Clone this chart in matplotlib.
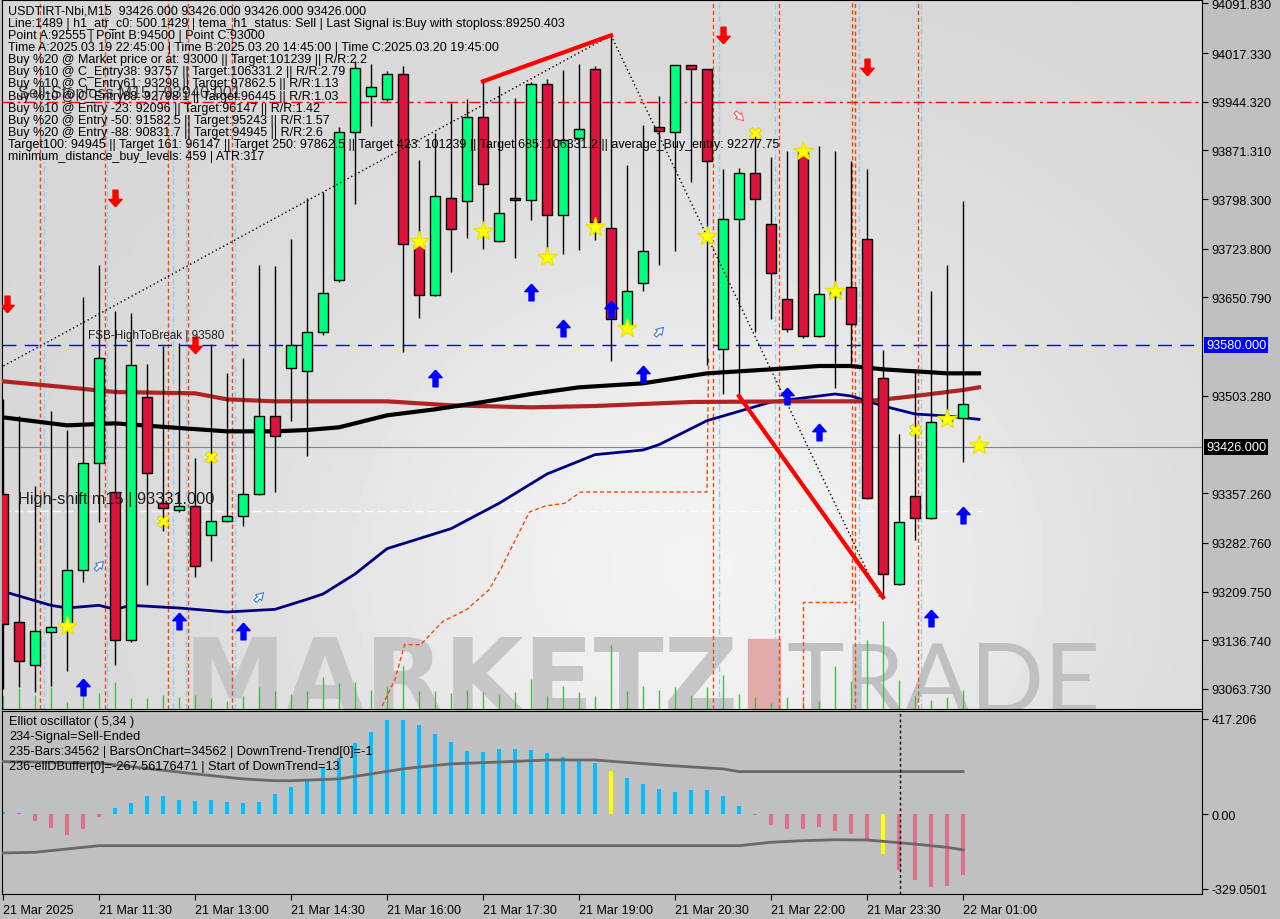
import numpy as np
import matplotlib.pyplot as plt

plt.rcParams['font.family'] = ['Liberation Sans', 'DejaVu Sans']

# ---- candles (15 min bars from 21 Mar 10:00)
opens = [93356, 93164, 93099, 93149, 93159, 93242, 93402, 93359, 93137, 93501,
         93342, 93332, 93338, 93294, 93315, 93323, 93356, 93473, 93545, 93540,
         93599, 93677, 93899, 93953, 93948, 93986, 93730, 93655, 93800, 93795,
         93922, 93736, 93800, 93797, 93971, 93774, 93890, 93994, 93755, 93606,
         93672, 93906, 93899, 93999, 93993, 93574, 93769, 93837, 93761, 93648,
         93870, 93593, 93653, 93667, 93739, 93530, 93221, 93353, 93320, 93466,
         93470]
closes = [93161, 93105, 93150, 93156, 93242, 93402, 93560, 93137, 93549, 93387,
          93335, 93338, 93248, 93315, 93323, 93356, 93473, 93443, 93580, 93599,
          93658, 93899, 93995, 93966, 93986, 93731, 93655, 93803, 93754, 93922,
          93821, 93778, 93797, 93971, 93774, 93887, 93904, 93764, 93618, 93660,
          93720, 93900, 93999, 93993, 93855, 93769, 93837, 93798, 93687, 93603,
          93593, 93656, 93664, 93611, 93350, 93236, 93314, 93320, 93464, 93472,
          93491]
highs = [93498, 93473, 93368, 93480, 93452, 93651, 93699, 93630, 93627, 93551,
         93578, 93582, 93410, 93581, 93537, 93560, 93699, 93698, 93738, 93800,
         93809, 93906, 94006, 94001, 93990, 93998, 93857, 93897, 93942, 93948,
         93974, 93968, 93950, 93974, 93978, 93992, 94001, 93998, 94044, 93849,
         93910, 93953, 93999, 93999, 93993, 93844, 93845, 93897, 93861, 93870,
         93876, 93878, 93870, 93855, 93844, 93572, 93446, 93544, 93660, 93699,
         93795]
lows = [93063, 93066, 93059, 93068, 93090, 93224, 93314, 93099, 93134, 93220,
        93300, 93329, 93232, 93256, 93314, 93308, 93354, 93359, 93465, 93413,
        93594, 93674, 93791, 93908, 93945, 93569, 93620, 93653, 93689, 93740,
        93724, 93734, 93710, 93767, 93724, 93716, 93722, 93737, 93555, 93603,
        93660, 93699, 93720, 93824, 93550, 93506, 93504, 93599, 93618, 93599,
        93590, 93592, 93515, 93550, 93348, 93202, 93220, 93287, 93318, 93464,
        93404]
volumes = [14, 21, 14, 22, 7, 16, 16, 27, 11, 11, 14, 12, 14, 11, 8, 13, 22, 18, 15, 18,
           32, 26, 27, 19, 23, 43, 18, 18, 16, 19, 17, 15, 17, 30, 13, 23, 17, 13, 64, 18,
           23, 19, 22, 14, 22, 34, 15, 12, 6, 12, 7, 8, 43, 28, 69, 88, 29, 13, 9, 12, 19]

# moving averages (bar, price)
ma_black_x = [0, 4, 7, 11, 14, 17, 19, 21, 24, 27, 30, 33, 36, 40, 44, 48, 51, 53, 55, 57, 59, 61]
ma_black = [93471, 93459, 93462, 93455, 93450, 93450, 93452, 93456, 93474, 93483, 93494,
            93506, 93516, 93522, 93537, 93543, 93548, 93548, 93543, 93540, 93537, 93537]
ma_red_x = [0, 4, 7, 12, 14, 17, 24, 28, 33, 37, 43, 50, 54, 57, 60, 61]
ma_red = [93525, 93516, 93509, 93507, 93498, 93495, 93495, 93489, 93486, 93488, 93494,
          93495, 93495, 93503, 93512, 93516]
ma_navy_x = [0, 3, 4, 6, 7, 8, 11, 14, 17, 19, 20, 22, 24, 26, 28, 31, 34, 37, 40, 41,
             44, 46, 48, 51, 52, 53, 55, 57, 59, 61]
ma_navy = [93210, 93189, 93185, 93189, 93183, 93189, 93185, 93179, 93183, 93198, 93206,
           93236, 93274, 93289, 93304, 93342, 93386, 93415, 93422, 93430, 93466, 93480,
           93494, 93503, 93506, 93503, 93488, 93476, 93473, 93468]
trail_x = [23.7, 24.5, 25.1, 26.1, 27.5, 29, 30.4, 31.1, 32.9, 33.9, 35.1, 36.1, 44, 44.1]
trail = [93038, 93078, 93130, 93130, 93165, 93183, 93213, 93243, 93329, 93338, 93342,
         93359, 93359, 93560]
trail2_x = [50, 50, 53.06, 53.06]
trail2 = [93035, 93194, 93194, 94097]

# ABC swing
abc_x = [-0.2, 38, 54.8]
abc = [93545, 94044, 93201]
leg1_x, leg1 = [30, 38], [93975, 94044]
leg2_x, leg2 = [46, 55], [93503, 93201]

# signal markers (bar, price)
stars = [(4, 93158), (26, 93735), (30, 93750), (34, 93711), (37, 93756), (39, 93605),
         (44, 93743), (50, 93870), (52, 93660), (59, 93468), (61, 93429)]
crosses = [(10, 93315), (13, 93411), (47, 93897), (57, 93452)]
up_arrows = [(5, 93066), (11, 93165), (15, 93150), (27, 93530), (33, 93659), (35, 93605),
             (38, 93633), (40, 93536), (49, 93503), (51, 93449), (58, 93170), (60, 93324)]
down_arrows = [(0.25, 93641), (7, 93800), (12, 93579), (45, 94044), (54, 93996)]
hollow_up = [(6, 93248), (16, 93201), (41, 93599)]
hollow_down = [(46, 93923)]

vlines_orange = [2.31, 6.38, 10.31, 11.56, 14.31, 44.4, 48.5, 53.25, 57.19]
vlines_blue = [2.56, 6.5, 10.63, 11.44, 14.5, 44.75, 48.25, 53.5, 57.38]

price_ticks = [94091.830, 94017.330, 93944.320, 93871.310, 93798.300, 93723.800, 93650.790,
               93503.280, 93357.260, 93282.760, 93209.750, 93136.740, 93063.730]

# Elliot oscillator
osc = [8, 4, -29, -60, -91, -66, -12, 26, 48, 79, 79, 63, 58, 63, 53, 48, 53, 88, 119, 154,
       202, 245, 313, 360, 413, 413, 391, 351, 316, 277, 272, 285, 285, 281, 268, 250, 234,
       224, 188, 158, 132, 110, 97, 105, 105, 79, 35, -3, -47, -66, -66, -56, -73, -88, -110,
       -176, -245, -289, -319, -315, -267]
osc_yellow = [38, 55]
osc_up_x = [0, 6, 12, 15, 17, 18, 21, 23, 25, 26, 28, 31, 34, 37, 39, 42, 45, 46, 60]
osc_up = [230, 224, 176, 154, 146, 146, 154, 176, 198, 206, 220, 228, 237, 237, 226, 211,
          198, 186, 186]
osc_lo_x = [0, 2, 6, 46, 48, 50, 52, 54, 55, 57, 59, 60]
osc_lo = [-171, -168, -139, -139, -124, -117, -113, -114, -120, -132, -146, -157]

time_ticks = [0, 6, 12, 18, 24, 30, 36, 42, 48, 54, 60]
time_labels = ['21 Mar 2025', '21 Mar 11:30', '21 Mar 13:00', '21 Mar 14:30', '21 Mar 16:00',
               '21 Mar 17:30', '21 Mar 19:00', '21 Mar 20:30', '21 Mar 22:00', '21 Mar 23:30',
               '22 Mar 01:00']

header = [
    "USDTIRT-Nbi,M15  93426.000 93426.000 93426.000 93426.000",
    "Line:1489 | h1_atr_c0: 500.1429 | tema_h1_status: Sell | Last Signal is:Buy with stoploss:89250.403",
    "Point A:92555 | Point B:94500 | Point C:93000",
    "Time A:2025.03.19 22:45:00 | Time B:2025.03.20 14:45:00 | Time C:2025.03.20 19:45:00",
    "Buy %20 @ Market price or at: 93000 || Target:101239 || R/R:2.2",
    "Buy %10 @ C_Entry38: 93757 || Target:106331.2 || R/R:2.79",
    "Buy %10 @ C_Entry61: 93298 || Target:97862.5 || R/R:1.13",
    "Buy %10 @ C_Entry88: 92798.1 || Target:96445 || R/R:1.03",
    "Buy %10 @ Entry -23: 92096 || Target:96147 || R/R:1.42",
    "Buy %20 @ Entry -50: 91582.5 || Target:95243 || R/R:1.57",
    "Buy %20 @ Entry -88: 90831.7 || Target:94945 || R/R:2.6",
    "Target100: 94945 || Target 161: 96147 || Target 250: 97862.5 || Target 423: 101239 || Target 685: 106331.2 || average_Buy_entry: 92277.75",
    "minimum_distance_buy_levels: 459 | ATR:317",
]
osc_text = [
    "Elliot oscillator ( 5,34 )",
    "234-Signal=Sell-Ended",
    "235-Bars:34562 | BarsOnChart=34562 | DownTrend-Trend[0]=-1",
    "236-ellDBuffer[0]=-267.56176471 | Start of DownTrend=13",
]

# arrow marker shapes
arrow_up = [(0, 1), (-0.8, 0.1), (-0.3, 0.1), (-0.3, -1), (0.3, -1), (0.3, 0.1), (0.8, 0.1), (0, 1)]
arrow_dn = [(x, -y) for x, y in arrow_up]

W, H = 1280, 920
fig = plt.figure(figsize=(12.8, 9.2), dpi=100)
fig.patch.set_facecolor('#c0c0c0')

ax = fig.add_axes([2 / W, 1 - 710 / H, 1200 / W, 709 / H])
axo = fig.add_axes([2 / W, 1 - 895 / H, 1200 / W, 183 / H])

x0, x1 = -0.0625, -0.0625 + 1200 / 16
y0, y1 = 93033.5, 94097.0
ax.set_xlim(x0, x1)
ax.set_ylim(y0, y1)

# background gradient
u = np.linspace(0, 1, 240)
v = np.linspace(0, 1, 180)
U, V = np.meshgrid(u, v)
g = 0.84 + 0.11 * np.exp(-((U - 0.58) ** 2 / 0.12 + (V - 0.2) ** 2 / 0.25))
ax.imshow(g, extent=[x0, x1, y0, y1], origin='lower', aspect='auto', cmap='gray',
          vmin=0, vmax=1, zorder=0)

# watermark
ax.text(11.3, y0 - 4, 'MARKETZ', fontsize=74, fontweight='bold', color='#c6c6c6',
        ha='left', va='baseline', family='DejaVu Sans', zorder=1, clip_on=True)
ax.add_patch(plt.Rectangle((46.56, y0), 2.0, 105, color='#e2aaaa', zorder=1))
ax.text(49.0, y0 - 4, 'TRADE', fontsize=70, fontweight='normal', color='#c0c0c0',
        ha='left', va='baseline', family=['Lato', 'DejaVu Sans'], zorder=1, clip_on=True)

# volume
xs = np.arange(len(opens))
ax.vlines(xs, 0, np.array(volumes) / 709, transform=ax.get_xaxis_transform(),
          color='#44bb44', lw=1, zorder=2)

# vertical session markers
for xv in vlines_orange:
    ax.axvline(xv, color='#ff4500', lw=1, ls=(0, (3, 2)), zorder=2)
for xv in vlines_blue:
    ax.axvline(xv, color='#87cefa', lw=1, ls=(0, (4, 2, 1, 2)), zorder=2)

# horizontal levels
ax.axhline(93944, color='#ff0000', lw=1, ls=(0, (8, 3, 2, 3)), zorder=2)
ax.axhline(93580, color='#0000ff', lw=1, ls=(0, (10, 6)), zorder=2)
ax.plot([x0, 61.2], [93331, 93331], color='white', lw=1, ls=(0, (6, 3)), zorder=2)
ax.axhline(93426, color='#778899', lw=0.8, zorder=2)

ax.plot(trail_x, trail, color='#ff4500', lw=1, ls=(0, (3, 2)), zorder=2)
ax.plot(trail2_x, trail2, color='#ff4500', lw=1, ls=(0, (3, 2)), zorder=2)

# moving averages
ax.plot(ma_navy_x, ma_navy, color='#000080', lw=2, zorder=3)
ax.plot(ma_red_x, ma_red, color='#b22222', lw=3, zorder=3)
ax.plot(ma_black_x, ma_black, color='black', lw=3, zorder=3)

# candles
for i in range(len(opens)):
    o, c, h, l = opens[i], closes[i], highs[i], lows[i]
    up = c >= o
    ax.vlines(i, l, h, color='black', lw=1, zorder=4)
    bot = min(o, c)
    ht = max(abs(c - o), 2)
    ax.add_patch(plt.Rectangle((i - 0.31, bot), 0.62, ht, fc='#00ff7f' if up else '#dc143c',
                               ec='black', lw=1, zorder=5))

# ABC lines
ax.plot(abc_x, abc, color='black', lw=1, ls=(0, (1, 2)), zorder=6)
ax.plot(leg1_x, leg1, color='#ff0000', lw=3, zorder=6)
ax.plot(leg2_x, leg2, color='#ff0000', lw=3, zorder=6)

# signals
for xs_, ys_ in stars:
    ax.plot(xs_, ys_, marker='*', ms=15, color='#ffff00', mec='#e6e600', zorder=7)
for xs_, ys_ in crosses:
    ax.plot(xs_, ys_, marker='X', ms=9, color='#ffff00', mec='#d4c000', mew=0.5, zorder=7)
for xs_, ys_ in up_arrows:
    ax.plot(xs_, ys_, marker=arrow_up, ms=12, color='#0000ff', mec='#0000ff', zorder=7)
for xs_, ys_ in down_arrows:
    ax.plot(xs_, ys_, marker=arrow_dn, ms=12, color='#ff0000', mec='#ff0000', zorder=7)
for xs_, ys_ in hollow_up:
    ax.annotate('', xy=(xs_ + 0.4, ys_ + 10), xytext=(xs_ - 0.35, ys_ - 9),
                arrowprops=dict(arrowstyle='simple,head_width=0.6,head_length=0.5,tail_width=0.25',
                                fc='white', ec='#3a7bd5', lw=0.8), zorder=7)
for xs_, ys_ in hollow_down:
    ax.annotate('', xy=(xs_ + 0.4, ys_ - 10), xytext=(xs_ - 0.35, ys_ + 9),
                arrowprops=dict(arrowstyle='simple,head_width=0.6,head_length=0.5,tail_width=0.25',
                                fc='white', ec='#ff5a5a', lw=0.8), zorder=7)

# line labels
ax.text(5.3, 93586, 'FSB-HighToBreak | 93580', fontsize=8.5, color='#202020', va='bottom', zorder=8)
ax.text(0.95, 93349, 'High-shift m15 | 93331.000', fontsize=11.8, color='#202020',
        va='center', zorder=8)
ax.text(0.95, 93959, 'Sell-Stoploss M15 | 93940.001', fontsize=11.8, color='#404040',
        va='center', zorder=8)

ax.set_xticks([])
ax.yaxis.tick_right()
ax.set_yticks(price_ticks)
ax.set_yticklabels(['%.3f' % t for t in price_ticks])
ax.tick_params(axis='y', labelsize=9.2, length=4, pad=3, colors='black')
for s in ax.spines.values():
    s.set_color('black')
for val, fc in [(93580, '#0000ff'), (93426, '#000000')]:
    ax.text(1.0 + 4 / 1200, val, '%.3f' % val, transform=ax.get_yaxis_transform(),
            ha='left', va='center', color='white', fontsize=9.2, clip_on=False,
            bbox=dict(boxstyle='square,pad=0.15', fc=fc, ec='none'))

for i, line in enumerate(header):
    fig.text(8 / W, 1 - (12 + 12.08 * i) / H, line, fontsize=9, color='black',
             va='center', ha='left', zorder=10)

# oscillator
axo.set_facecolor('#c0c0c0')
axo.set_xlim(x0, x1)
axo.set_ylim(-351, 452)
cols = []
for i, val in enumerate(osc):
    if i in osc_yellow:
        cols.append('#ffff00')
    elif val >= 0:
        cols.append('#00bfff')
    else:
        cols.append('#e0708f')
axo.bar(np.arange(len(osc)), osc, width=0.22, color=cols, zorder=2)
axo.plot(osc_up_x, osc_up, color='#696969', lw=2, zorder=3)
axo.plot(osc_lo_x, osc_lo, color='#696969', lw=2, zorder=3)
axo.axvline(56.06, color='black', lw=1, ls=(0, (2, 2)), zorder=4)
for i, line in enumerate(osc_text):
    axo.text(7 / 1200, 1 - (10 + 15 * i) / 183, line, transform=axo.transAxes, fontsize=9.2,
             color='black', va='center', ha='left', zorder=5)
axo.yaxis.tick_right()
axo.set_yticks([417.206, 0.0, -329.0501])
axo.set_yticklabels(['417.206', '0.00', '-329.0501'])
axo.set_xticks(time_ticks)
axo.set_xticklabels(time_labels)
for lab in axo.get_xticklabels():
    lab.set_ha('left')
axo.tick_params(axis='both', labelsize=9, length=4, pad=3, colors='black')

fig.savefig('out.png', dpi=100, facecolor=fig.get_facecolor())
